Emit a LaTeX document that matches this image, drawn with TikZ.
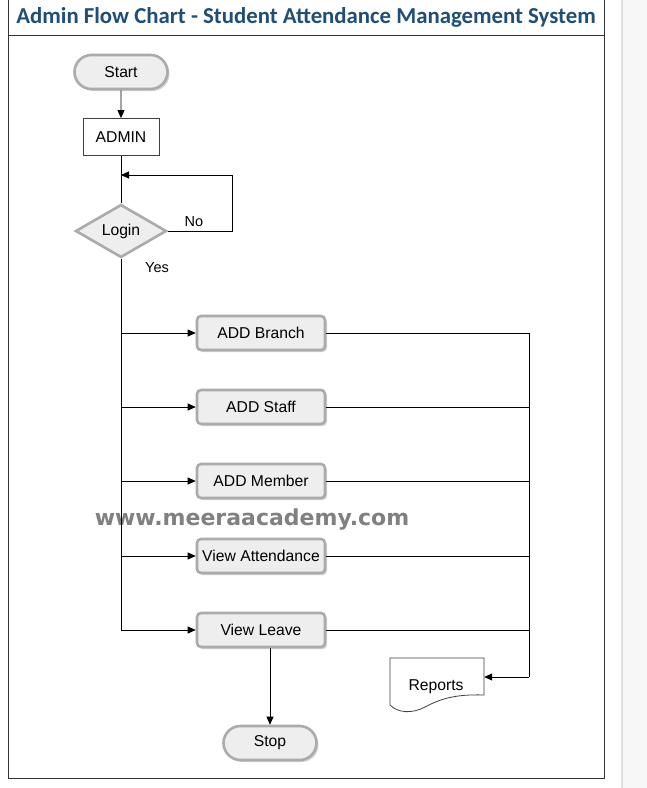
\documentclass[tikz,border=0pt]{standalone}
\usepackage{fontspec}
\setmainfont{Liberation Sans}
\newfontfamily\titlefont{Carlito}
\newfontfamily\wmfont{DejaVu Sans}
\usetikzlibrary{shapes.geometric,shapes.misc,shadows,arrows.meta}
\definecolor{titleblue}{HTML}{1F4E79}
\definecolor{boxfill}{HTML}{EEEEEE}
\definecolor{boxedge}{HTML}{ABABAB}
\tikzset{
  arr/.style={-{Triangle[length=8pt,width=7pt]}, line width=0.8pt},
  ln/.style={line width=0.8pt},
  lbl/.style={font=\fontsize{14.5}{16}\selectfont, inner sep=0pt},
  nfont/.style={font=\fontsize{15.7}{18}\selectfont},
  proc/.style={rounded corners=4pt, minimum width=128, minimum height=34, fill=boxfill, draw=boxedge, line width=2.6pt, drop shadow={opacity=0.35, shadow xshift=2pt, shadow yshift=-2pt}, nfont, inner sep=0pt},
  term/.style={rounded rectangle, minimum width=93, minimum height=34, fill=boxfill, draw=boxedge, line width=2.6pt, drop shadow={opacity=0.35, shadow xshift=2pt, shadow yshift=-2pt}, nfont, inner sep=0pt},
  dec/.style={diamond, aspect=1.7, minimum width=91, minimum height=53, fill=boxfill, draw=boxedge, line width=2.6pt, nfont, inner sep=0pt},
  plain/.style={rectangle, minimum width=76, minimum height=37, draw=black!75, line width=0.8pt, fill=white, nfont, inner sep=0pt},
}
\begin{document}
\begin{tikzpicture}[x=1pt,y=-1pt]
\useasboundingbox (0,0) rectangle (647,788);
\fill[white] (0,0) rectangle (647,788);
\fill[black!3] (623,0) rectangle (647,788);
\draw[black!12, line width=1.5pt] (622,0) -- (622,788);
\draw[black!80, line width=1pt] (8,0) -- (8,778) -- (604,778) -- (604,0);
\draw[black!80, line width=1pt] (8,35) -- (604,35);
\node[font=\titlefont\bfseries\fontsize{22.8}{26}\selectfont, text=titleblue] (title) at (306,17) {Admin Flow Chart - Student Attendance Management System};

\node[term] (start) at (121,72) {Start};
\node[plain] (admin) at (121,137) {ADMIN};
\node[dec] (login) at (121,231) {\raisebox{-1.5pt}{Login}};
\node[proc] (b1) at (261,333) {ADD Branch};
\node[proc] (b2) at (261,407) {ADD Staff};
\node[proc] (b3) at (261,481) {ADD Member};
\node[proc] (b4) at (261,556) {View Attendance};
\node[proc] (b5) at (261,630) {View Leave};
\node[term] (stop) at (270,743) {Stop};

\node[font=\wmfont\bfseries\fontsize{22}{26}\selectfont, text=black!50] (wm) at (252,520) {www.meeraacademy.com};

% Reports document
\node[minimum width=94, minimum height=40, inner sep=0pt] (rep) at (437,677) {};
\draw[black!75, line width=0.8pt, fill=white] (390,658) -- (484,658) -- (484,695)
  .. controls (455,694) and (440,699) .. (425,707)
  .. controls (412,714) and (398,713) .. (390,705) -- cycle;
\node[nfont] (reptxt) at (436,687) {Reports};

\coordinate (fb) at (121,175);
\coordinate (fbc) at (232,175);
\coordinate (bus) at (121,630);
\coordinate (rb) at (529,677);

\draw[arr] (start) -- (admin);
\draw[ln] (admin.south) -- (login.north);
\draw[arr] (login.east) -| (fbc) -- (fb);
\node[lbl] (no) at (194,222) {No};
\node[lbl] (yes) at (157,268) {Yes};
\draw[ln] (login.south) -- (bus);
\foreach \b in {b1,b2,b3,b4,b5}{
  \draw[arr] (login.south |- \b.west) -- (\b.west);
  \draw[ln] (\b.east) -- (\b.east -| rb);
}
\draw[ln] (b1.east -| rb) -- (rb);
\draw[arr] (rb) -- (rep.east |- rb);
\draw[arr] (b5.south -| stop.north) -- (stop.north);
\end{tikzpicture}
\end{document}
